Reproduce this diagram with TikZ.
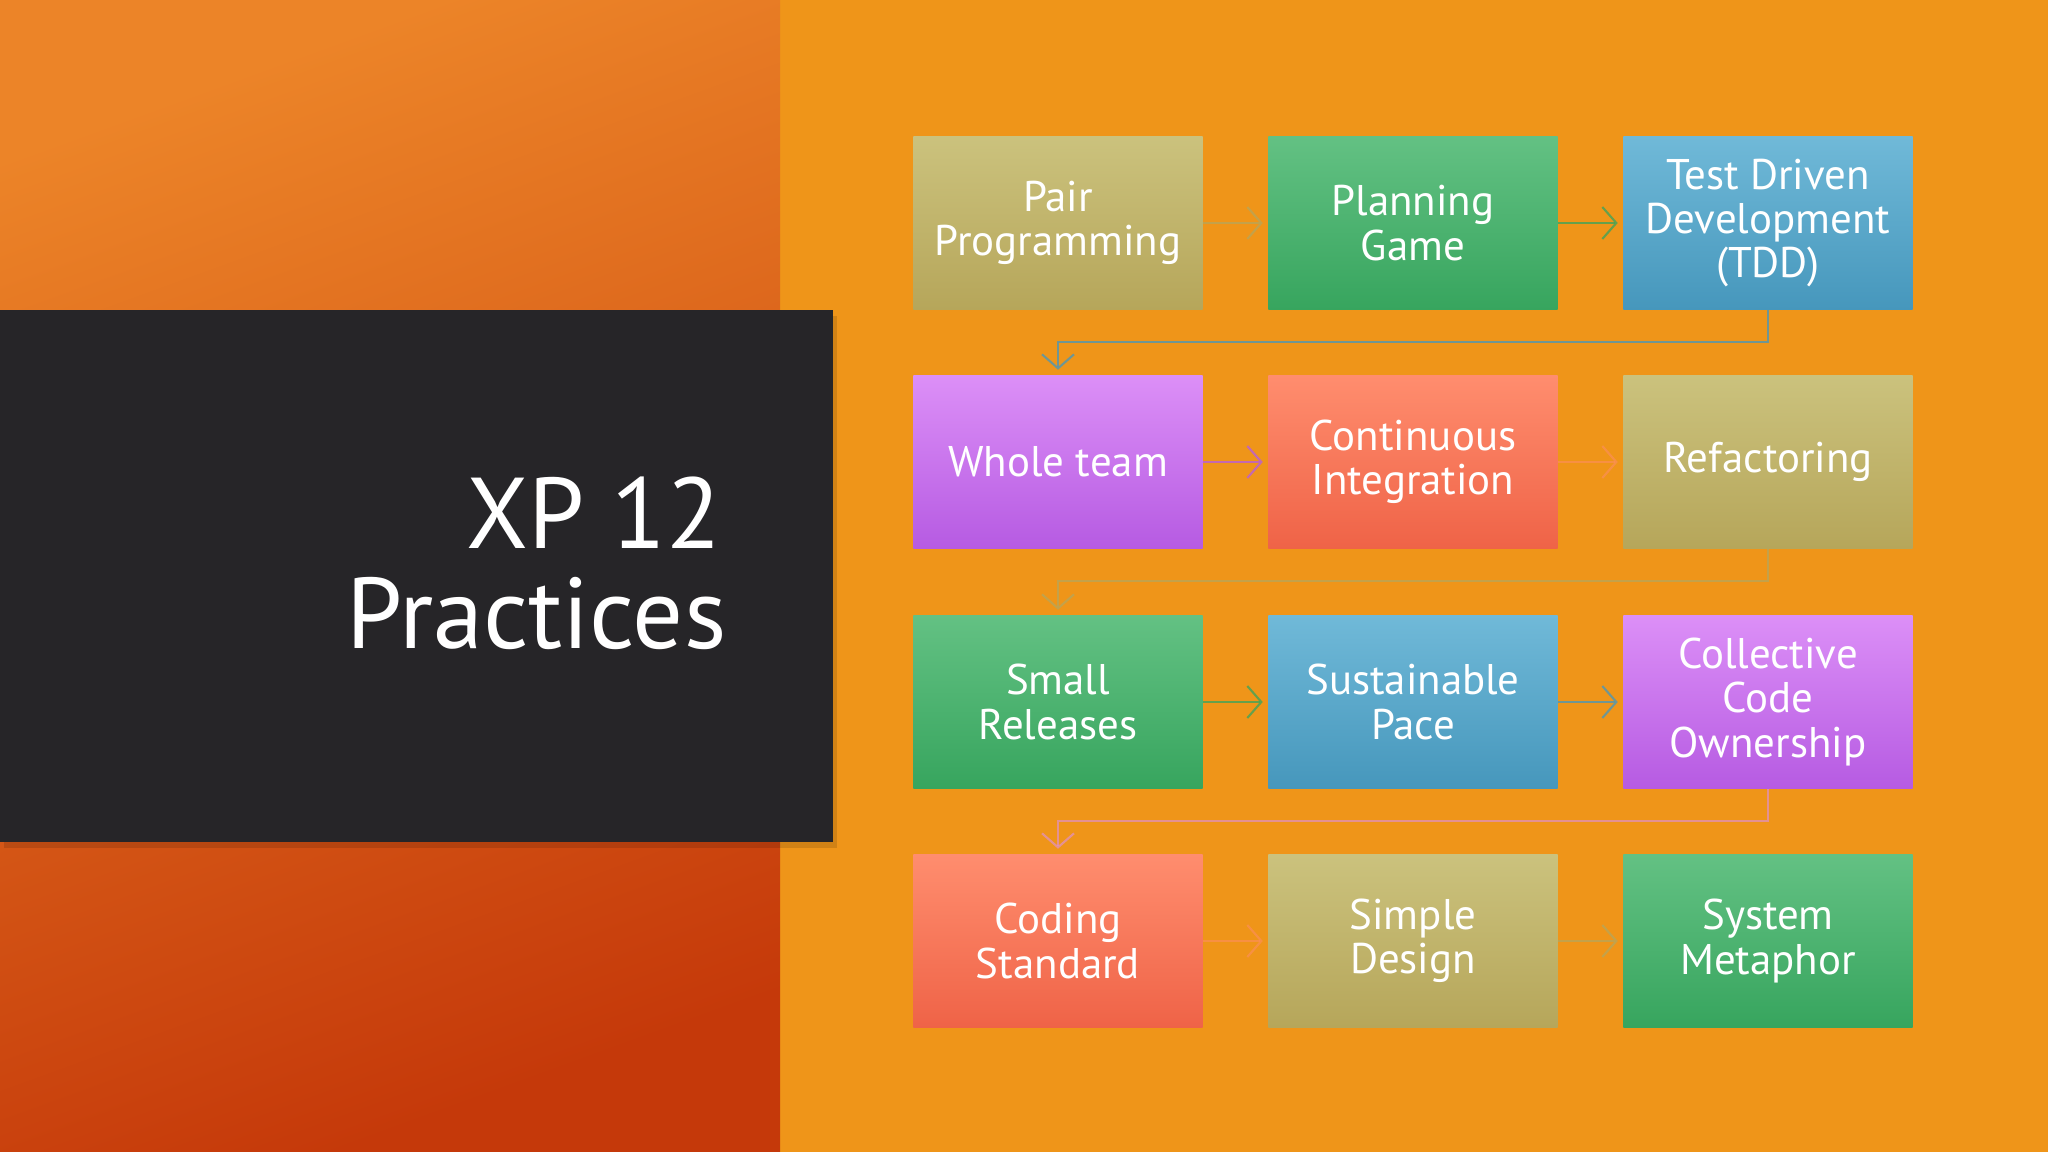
\documentclass[tikz,border=0pt]{standalone}
\usepackage{fontspec}
\setmainfont{PT Sans}
\usetikzlibrary{arrows.meta}

% slide colours
\definecolor{slideorange}{HTML}{EF9519}
\definecolor{leftlight}{HTML}{EC8428}
\definecolor{leftdark}{HTML}{C5390A}
\definecolor{panel}{HTML}{262528}
\definecolor{tantop}{HTML}{CBC27D}
\definecolor{tanbot}{HTML}{B6A65A}
\definecolor{greentop}{HTML}{63C183}
\definecolor{greenbot}{HTML}{37A55E}
\definecolor{bluetop}{HTML}{70B9D8}
\definecolor{bluebot}{HTML}{4697BC}
\definecolor{purpletop}{HTML}{DC8FF7}
\definecolor{purplebot}{HTML}{B65BE2}
\definecolor{salmontop}{HTML}{FF8D6E}
\definecolor{salmonbot}{HTML}{EF6347}

\tikzset{
  practice/.style={minimum width=2.89cm, minimum height=1.73cm, inner sep=0pt,
    align=center, text=white, font=\fontsize{12.2}{12.6}\selectfont},
  tanbox/.style={practice, top color=tantop, bottom color=tanbot},
  greenbox/.style={practice, top color=greentop, bottom color=greenbot},
  bluebox/.style={practice, top color=bluetop, bottom color=bluebot},
  purplebox/.style={practice, top color=purpletop, bottom color=purplebot},
  salmonbox/.style={practice, top color=salmontop, bottom color=salmonbot},
  flow/.style={-{Straight Barb[length=0.14cm, width=0.32cm]}, line width=0.6pt,
    shorten >=0.05cm, draw opacity=0.75},
  titletext/.style={text=white, anchor=base east, inner sep=0pt,
    font=\fontsize{28.6}{29}\selectfont}
}

\begin{document}
\begin{tikzpicture}[x=0.01cm, y=-0.01cm]
	\useasboundingbox (0,0) rectangle (2048,1152);
	% background
	\fill[slideorange] (0,0) rectangle (2048,1152);
	\shade[top color=leftlight, bottom color=leftdark, shading angle=20] (0,0) rectangle (780,1152);
	
	% title panel
	\fill[black, opacity=0.12] (4,316) rectangle (837,848);
	\fill[panel] (0,310) rectangle (833,842);
	\node[titletext] (xp) at (722,549) {XP 12};
	\node[titletext] (title) at (727,649) {Practices};
	
	% practices
	\node[tanbox] (pair) at (1058,223) {Pair\\Programming};
	\node[greenbox] (plan) at (1413,223) {Planning\\Game};
	\node[bluebox] (tdd) at (1768,223) {Test Driven\\Development\\(TDD)};
	
	\node[purplebox] (team) at (1058,462) {Whole team};
	\node[salmonbox] (ci) at (1413,462) {Continuous\\Integration};
	\node[tanbox] (refac) at (1768,462) {Refactoring};
	
	\node[greenbox] (small) at (1058,702) {Small\\Releases};
	\node[bluebox] (pace) at (1413,702) {Sustainable\\Pace};
	\node[purplebox] (owner) at (1768,702) {Collective\\Code\\Ownership};
	
	\node[salmonbox] (coding) at (1058,941) {Coding\\Standard};
	\node[tanbox] (design) at (1413,941) {Simple\\Design};
	\node[greenbox] (metaphor) at (1768,941) {System\\Metaphor};
	
	% arrows
	\draw[flow, tanbot] (pair) -- (plan);
	\draw[flow, greenbot] (plan) -- (tdd);
	\draw[flow, bluebot] (tdd.south) -- ++(0,32) -| (team.north);
	\draw[flow, purplebot] (team) -- (ci);
	\draw[flow, salmontop, draw opacity=0.5] (ci) -- (refac);
	\draw[flow, tanbot] (refac.south) -- ++(0,32) -| (small.north);
	\draw[flow, greenbot] (small) -- (pace);
	\draw[flow, bluebot] (pace) -- (owner);
	\draw[flow, purpletop, draw opacity=0.55] (owner.south) -- ++(0,32) -| (coding.north);
	\draw[flow, salmontop, draw opacity=0.5] (coding) -- (design);
	\draw[flow, tanbot] (design) -- (metaphor);
\end{tikzpicture}
\end{document}
